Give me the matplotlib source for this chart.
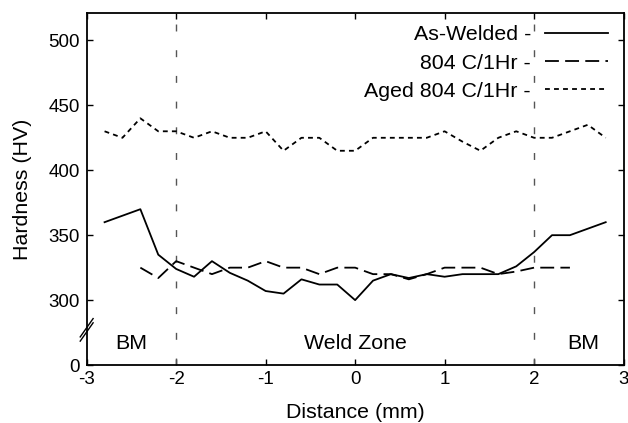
import numpy as np
import matplotlib
matplotlib.use('Agg')
import matplotlib.pyplot as plt

plt.rcParams['font.family'] = ['Liberation Sans', 'DejaVu Sans']
plt.rcParams['font.size'] = 13.5
plt.rcParams['lines.scale_dashes'] = False
plt.rcParams['axes.unicode_minus'] = False

# ---------------------------------------------------------------------------
# data
# ---------------------------------------------------------------------------
x_as_welded = [-2.8, -2.4, -2.2, -2.0, -1.8, -1.6, -1.4, -1.2, -1.0, -0.8, -0.6, -0.4, -0.2,
               0.0, 0.2, 0.4, 0.6, 0.8, 1.0, 1.2, 1.4, 1.6, 1.8, 2.0, 2.2, 2.4, 2.6, 2.8]
hv_as_welded = [360, 370, 335, 324, 318, 330, 321, 315, 307, 305, 316, 312, 312,
                300, 315, 320, 317, 320, 318, 320, 320, 320, 326, 337, 350, 350, 355, 360]

x_804 = [-2.4, -2.2, -2.0, -1.6, -1.4, -1.2, -1.0, -0.8, -0.6, -0.4, -0.2,
         0.0, 0.2, 0.4, 0.6, 0.8, 1.0, 1.2, 1.4, 1.6, 1.8, 2.0, 2.2, 2.4]
hv_804 = [325, 317, 330, 320, 325, 325, 330, 325, 325, 320, 325,
          325, 320, 320, 316, 320, 325, 325, 325, 320, 322, 325, 325, 325]

x_aged = [-2.8, -2.6, -2.4, -2.2, -2.0, -1.8, -1.6, -1.4, -1.2, -1.0, -0.8, -0.6, -0.4, -0.2,
          0.0, 0.2, 0.4, 0.6, 0.8, 1.0, 1.2, 1.4, 1.6, 1.8, 2.0, 2.2, 2.4, 2.6, 2.8]
hv_aged = [430, 425, 440, 430, 430, 425, 430, 425, 425, 430, 415, 425, 425, 415,
           415, 425, 425, 425, 425, 430, 422, 415, 425, 430, 425, 425, 430, 435, 425]

zone_edges = [-2, 2]
zone_labels = ['BM', 'Weld Zone', 'BM']
zone_label_x = [-2.5, 0.0, 2.55]

x_ticks = [-3, -2, -1, 0, 1, 2, 3]
y_ticks = [0, 300, 350, 400, 450, 500]


# broken y axis: 0..300 squeezed into a short strip below 300
def fwd(v):
    v = np.asarray(v, dtype=float)
    return np.where(v < 300, 250 + v / 6.0, v)


def inv(v):
    v = np.asarray(v, dtype=float)
    return np.where(v < 300, (v - 250) * 6.0, v)


fig = plt.figure(figsize=(6.28, 4.23), dpi=100)
ax = fig.add_axes([0.138, 0.137, 0.855, 0.832])
ax.set_yscale('function', functions=(fwd, inv))

for xe in zone_edges:
    ax.axvline(xe, color='#555555', lw=1.0, linestyle=(0, (5, 13.5)))

ax.plot(x_as_welded, hv_as_welded, color='black', lw=1.3, linestyle='-', label='As-Welded -')
ax.plot(x_804, hv_804, color='black', lw=1.3, linestyle=(0, (10, 4.5)), label='804 C/1Hr -')
ax.plot(x_aged, hv_aged, color='black', lw=1.3, linestyle=(0, (3.5, 3.0)), label='Aged 804 C/1Hr -')

for lx, txt in zip(zone_label_x, zone_labels):
    ax.text(lx, 0.062, txt, transform=ax.get_xaxis_transform(),
            ha='center', va='center', fontsize=15.4)

ax.set_xlim(-3, 3)
ax.set_ylim(0, 521)
ax.set_xticks(x_ticks)
ax.set_yticks(y_ticks)
ax.set_yticklabels([str(t) for t in y_ticks])
ax.tick_params(direction='in', top=True, right=True, length=4, width=1.0, labelsize=13.5)
ax.tick_params(axis='x', pad=4)
ax.tick_params(axis='y', pad=5)
for sp in ax.spines.values():
    sp.set_linewidth(1.3)

ax.set_xlabel('Distance (mm)', fontsize=15.4, labelpad=11)
ax.set_ylabel('Hardness (HV)', fontsize=15.4, labelpad=12)

# axis break marks
for dy in (0.0, 0.012):
    ax.plot([-0.012, 0.012], [0.068 + dy, 0.12 + dy], transform=ax.transAxes,
            color='black', lw=1.0, clip_on=False)

leg = ax.legend(loc='upper right', markerfirst=False, frameon=False, fontsize=15.4,
                handlelength=2.95, handletextpad=0.65, labelspacing=0.43,
                borderaxespad=0.0, borderpad=0.0, bbox_to_anchor=(0.971, 0.965))

fig.savefig('out.png', dpi=100)
